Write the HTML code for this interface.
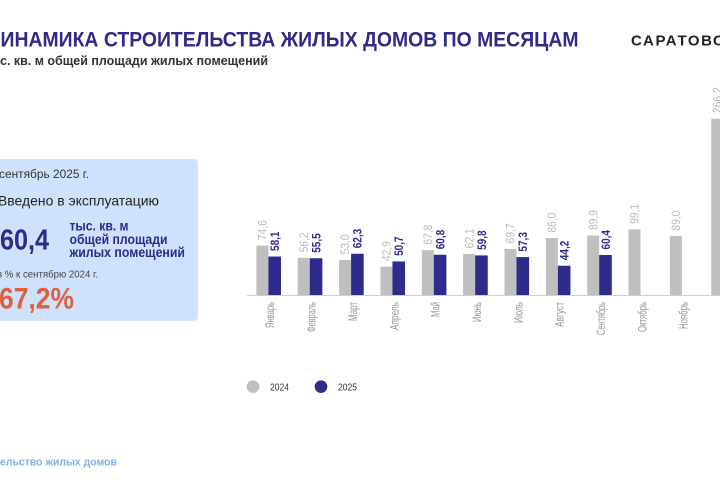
<!DOCTYPE html>
<html><head><meta charset="utf-8">
<style>
html,body{margin:0;padding:0;background:#fff;width:720px;height:480px;overflow:hidden;}
svg{display:block;}
text{font-family:"Liberation Sans","DejaVu Sans",sans-serif;}
</style></head>
<body>
<svg width="720" height="480" viewBox="0 0 720 480" xmlns="http://www.w3.org/2000/svg">
<rect width="720" height="480" fill="#ffffff"/>

<!-- Title -->
<text x="0.5" y="46.7" font-size="21" font-weight="bold" fill="#2e2a8a" textLength="578" lengthAdjust="spacingAndGlyphs">ИНАМИКА СТРОИТЕЛЬСТВА ЖИЛЫХ ДОМОВ ПО МЕСЯЦАМ</text>
<text x="0" y="65" font-size="13" font-weight="bold" fill="#333" textLength="268" lengthAdjust="spacingAndGlyphs">с. кв. м общей площади жилых помещений</text>
<text x="631" y="45.5" font-size="15" font-weight="bold" fill="#222" letter-spacing="1.6">САРАТОВСКАЯ</text>

<!-- Card -->
<rect x="-10" y="159" width="208" height="162" rx="4" fill="#cfe2fd"/>
<text x="-1" y="178" font-size="12" fill="#333" textLength="90" lengthAdjust="spacingAndGlyphs">сентябрь 2025 г.</text>
<text x="-2" y="205.5" font-size="14" fill="#222" textLength="161" lengthAdjust="spacingAndGlyphs">Введено в эксплуатацию</text>
<text x="0" y="249.5" font-size="29" font-weight="bold" fill="#2e2a8a" textLength="49" lengthAdjust="spacingAndGlyphs">60,4</text>
<text x="69.5" y="230.5" font-size="14" font-weight="bold" fill="#2e2a8a" textLength="59" lengthAdjust="spacingAndGlyphs">тыс. кв. м</text>
<text x="69.5" y="243.8" font-size="14" font-weight="bold" fill="#2e2a8a" textLength="98" lengthAdjust="spacingAndGlyphs">общей площади</text>
<text x="69.5" y="257.1" font-size="14" font-weight="bold" fill="#2e2a8a" textLength="115.5" lengthAdjust="spacingAndGlyphs">жилых помещений</text>
<text x="-3" y="277.7" font-size="10.5" fill="#444" textLength="101" lengthAdjust="spacingAndGlyphs">в % к  сентябрю 2024 г.</text>
<text x="-1" y="308.3" font-size="30" font-weight="bold" fill="#e0603d" textLength="75" lengthAdjust="spacingAndGlyphs">67,2%</text>

<!-- Axis -->
<line x1="247" y1="295.5" x2="720" y2="295.5" stroke="#d0d0d0" stroke-width="1"/>

<!-- Gray bars -->
<g fill="#bfbfbf">
<rect x="256.4" y="245.61" width="12" height="49.39"/>
<rect x="297.75" y="257.80" width="12" height="37.20"/>
<rect x="339.1" y="259.91" width="12" height="35.09"/>
<rect x="380.45" y="266.60" width="12" height="28.40"/>
<rect x="421.8" y="250.12" width="12" height="44.88"/>
<rect x="463.15" y="253.89" width="12" height="41.11"/>
<rect x="504.5" y="248.86" width="12" height="46.14"/>
<rect x="545.85" y="238.07" width="12" height="56.93"/>
<rect x="587.2" y="235.49" width="12" height="59.51"/>
<rect x="628.55" y="229.40" width="12" height="65.60"/>
<rect x="669.9" y="236.08" width="12" height="58.92"/>
<rect x="711.25" y="118.78" width="12" height="176.22"/>
</g>

<!-- Blue bars -->
<g fill="#2f2b8c">
<rect x="268.4" y="256.54" width="12.6" height="38.46"/>
<rect x="309.75" y="258.26" width="12.6" height="36.74"/>
<rect x="351.1" y="253.76" width="12.6" height="41.24"/>
<rect x="392.45" y="261.44" width="12.6" height="33.56"/>
<rect x="433.8" y="254.75" width="12.6" height="40.25"/>
<rect x="475.15" y="255.41" width="12.6" height="39.59"/>
<rect x="516.5" y="257.07" width="12.6" height="37.93"/>
<rect x="557.85" y="265.74" width="12.6" height="29.26"/>
<rect x="599.2" y="255.02" width="12.6" height="39.98"/>
</g>

<!-- Gray value labels -->
<g font-size="11.5" fill="#b8b8b8">
<text transform="translate(266.5,240.1) rotate(-90)" textLength="20" lengthAdjust="spacingAndGlyphs">74,6</text>
<text transform="translate(307.85,252.3) rotate(-90)" textLength="20" lengthAdjust="spacingAndGlyphs">56,2</text>
<text transform="translate(349.2,254.4) rotate(-90)" textLength="20" lengthAdjust="spacingAndGlyphs">53,0</text>
<text transform="translate(390.55,261.1) rotate(-90)" textLength="20" lengthAdjust="spacingAndGlyphs">42,9</text>
<text transform="translate(431.9,244.6) rotate(-90)" textLength="20" lengthAdjust="spacingAndGlyphs">67,8</text>
<text transform="translate(473.25,248.4) rotate(-90)" textLength="20" lengthAdjust="spacingAndGlyphs">62,1</text>
<text transform="translate(514.6,243.4) rotate(-90)" textLength="20" lengthAdjust="spacingAndGlyphs">69,7</text>
<text transform="translate(555.95,232.6) rotate(-90)" textLength="20" lengthAdjust="spacingAndGlyphs">86,0</text>
<text transform="translate(597.3,230.0) rotate(-90)" textLength="20" lengthAdjust="spacingAndGlyphs">89,9</text>
<text transform="translate(638.65,223.9) rotate(-90)" textLength="20" lengthAdjust="spacingAndGlyphs">99,1</text>
<text transform="translate(680.0,230.6) rotate(-90)" textLength="20" lengthAdjust="spacingAndGlyphs">89,0</text>
<text transform="translate(721.35,113.2) rotate(-90)" textLength="26" lengthAdjust="spacingAndGlyphs">266,2</text>
</g>

<!-- Blue value labels -->
<g font-size="12" font-weight="bold" fill="#2e2a8a">
<text transform="translate(279.0,251.0) rotate(-90)" textLength="19.5" lengthAdjust="spacingAndGlyphs">58,1</text>
<text transform="translate(320.35,252.8) rotate(-90)" textLength="19.5" lengthAdjust="spacingAndGlyphs">55,5</text>
<text transform="translate(361.7,248.3) rotate(-90)" textLength="19.5" lengthAdjust="spacingAndGlyphs">62,3</text>
<text transform="translate(403.05,255.9) rotate(-90)" textLength="19.5" lengthAdjust="spacingAndGlyphs">50,7</text>
<text transform="translate(444.4,249.3) rotate(-90)" textLength="19.5" lengthAdjust="spacingAndGlyphs">60,8</text>
<text transform="translate(485.75,249.9) rotate(-90)" textLength="19.5" lengthAdjust="spacingAndGlyphs">59,8</text>
<text transform="translate(527.1,251.6) rotate(-90)" textLength="19.5" lengthAdjust="spacingAndGlyphs">57,3</text>
<text transform="translate(568.45,260.2) rotate(-90)" textLength="19.5" lengthAdjust="spacingAndGlyphs">44,2</text>
<text transform="translate(609.8,249.5) rotate(-90)" textLength="19.5" lengthAdjust="spacingAndGlyphs">60,4</text>
</g>

<!-- Month labels -->
<g font-size="11.5" fill="#959595" text-anchor="end">
<text transform="translate(274.2,302) rotate(-90)" textLength="26" lengthAdjust="spacingAndGlyphs">Январь</text>
<text transform="translate(315.55,302) rotate(-90)" textLength="30" lengthAdjust="spacingAndGlyphs">Февраль</text>
<text transform="translate(356.9,302) rotate(-90)" textLength="19" lengthAdjust="spacingAndGlyphs">Март</text>
<text transform="translate(398.25,302) rotate(-90)" textLength="28" lengthAdjust="spacingAndGlyphs">Апрель</text>
<text transform="translate(439.6,302) rotate(-90)" textLength="15" lengthAdjust="spacingAndGlyphs">Май</text>
<text transform="translate(480.95,302) rotate(-90)" textLength="20" lengthAdjust="spacingAndGlyphs">Июнь</text>
<text transform="translate(522.3,302) rotate(-90)" textLength="21" lengthAdjust="spacingAndGlyphs">Июль</text>
<text transform="translate(563.65,302) rotate(-90)" textLength="25" lengthAdjust="spacingAndGlyphs">Август</text>
<text transform="translate(605.0,302) rotate(-90)" textLength="33" lengthAdjust="spacingAndGlyphs">Сентябрь</text>
<text transform="translate(646.35,302) rotate(-90)" textLength="30" lengthAdjust="spacingAndGlyphs">Октябрь</text>
<text transform="translate(687.7,302) rotate(-90)" textLength="27" lengthAdjust="spacingAndGlyphs">Ноябрь</text>
</g>

<!-- Legend -->
<circle cx="253" cy="386.7" r="6.3" fill="#bfbfbf"/>
<text x="270" y="390.3" font-size="10" fill="#333" textLength="19" lengthAdjust="spacingAndGlyphs">2024</text>
<circle cx="321" cy="386.7" r="6.3" fill="#2f2b8c"/>
<text x="338" y="390.3" font-size="10" fill="#333" textLength="19" lengthAdjust="spacingAndGlyphs">2025</text>

<!-- Footer -->
<text x="0" y="465.5" font-size="11" font-weight="bold" fill="#7fb2e5" textLength="117" lengthAdjust="spacingAndGlyphs">ельство жилых домов</text>
</svg>
</body></html>
